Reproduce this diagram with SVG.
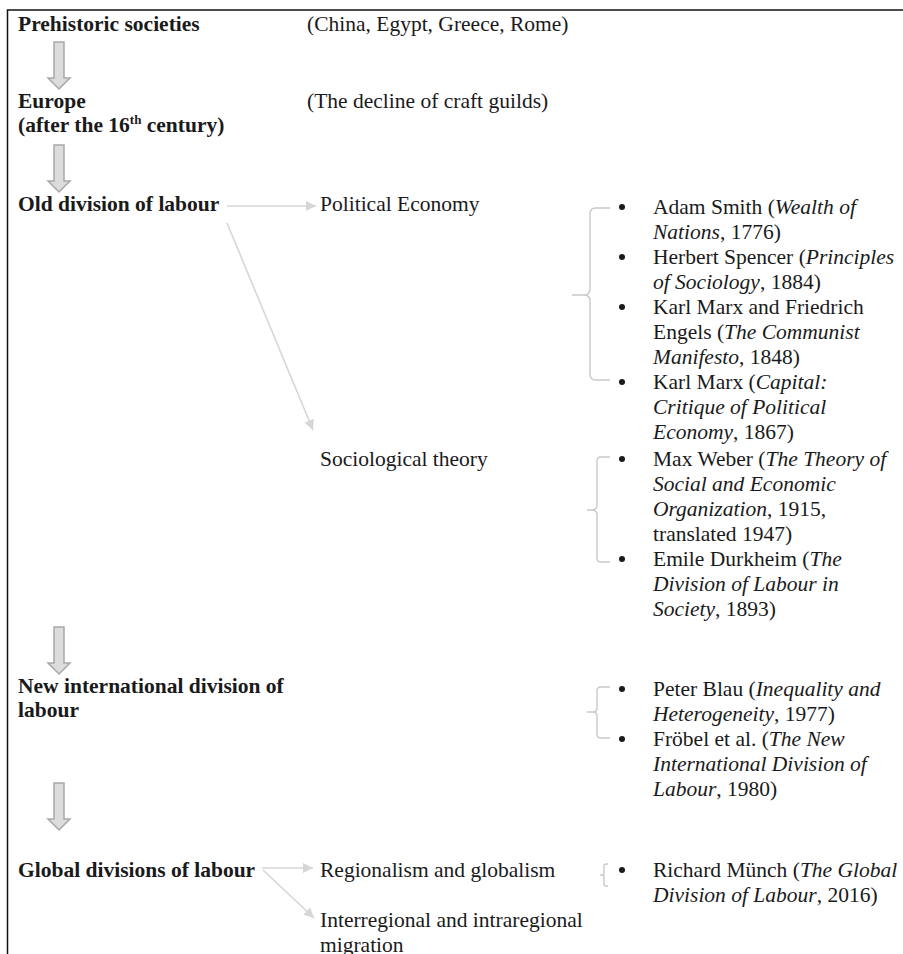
<svg xmlns="http://www.w3.org/2000/svg" width="903" height="954" viewBox="0 0 903 954">
<style>
  text { font-family: "Liberation Serif", "Times New Roman", serif; font-size: 21.5px; fill: #1a1a1a; }
  .b { font-weight: bold; }
  .i { font-style: italic; }
  .frame { stroke: #111; stroke-width: 1.5; fill: none; }
  .block { fill: #dcdcdc; stroke: #a8a8a8; stroke-width: 1.5; }
  .conn { stroke: #d6d6d6; stroke-width: 1.6; fill: none; }
  .brace { stroke: #c9c9c9; stroke-width: 1.4; fill: none; }
  .dot { fill: #1a1a1a; }
</style>
<defs>
  <marker id="ah" viewBox="0 0 10 10" refX="10" refY="5" markerWidth="8" markerHeight="8" markerUnits="userSpaceOnUse" orient="auto">
    <path d="M0,0 L10,5 L0,10 z" fill="#d6d6d6"/>
  </marker>
  <marker id="ahb" viewBox="0 0 10 10" refX="10" refY="5" markerWidth="14" markerHeight="10" markerUnits="userSpaceOnUse" orient="auto">
    <path d="M0,0 L10,5 L0,10 z" fill="#d6d6d6"/>
  </marker>
  <polygon id="blockarrow" points="54,0 64,0 64,36 70,36 59,47 48,36 54,36"/>
</defs>
<rect width="903" height="954" fill="#ffffff"/>
<path class="frame" d="M7.5,954 V10 H903"/>

<g id="prehistoric">
  <text class="b" x="18" y="31">Prehistoric societies</text>
  <text x="307" y="31">(China, Egypt, Greece, Rome)</text>
</g>
<g id="europe">
  <text class="b" x="18" y="108">Europe</text>
  <text class="b" x="18" y="132">(after the 16<tspan dy="-8" font-size="13">th</tspan><tspan dy="8"> century)</tspan></text>
  <text x="307" y="108">(The decline of craft guilds)</text>
</g>
<g id="old-division">
  <text class="b" x="18" y="211">Old division of labour</text>
</g>
<g id="political-economy">
  <text x="320" y="211">Political Economy</text>
</g>
<g id="political-economy-refs">
  <path class="brace" d="M610,208 H596 Q590,208 590,214 V289 Q590,295 584,295 H572 M584,295 Q590,295 590,301 V374 Q590,380 596,380 H610"/>
  <circle class="dot" cx="622" cy="207" r="3"/>
  <text x="653" y="214">Adam Smith (<tspan class="i">Wealth of</tspan></text>
  <text x="653" y="239"><tspan class="i">Nations</tspan>, 1776)</text>
  <circle class="dot" cx="622" cy="257" r="3"/>
  <text x="653" y="264">Herbert Spencer (<tspan class="i">Principles</tspan></text>
  <text x="653" y="289"><tspan class="i">of Sociology</tspan>, 1884)</text>
  <circle class="dot" cx="622" cy="307" r="3"/>
  <text x="653" y="314">Karl Marx and Friedrich</text>
  <text x="653" y="339">Engels (<tspan class="i">The Communist</tspan></text>
  <text x="653" y="364"><tspan class="i">Manifesto</tspan>, 1848)</text>
  <circle class="dot" cx="622" cy="382" r="3"/>
  <text x="653" y="389">Karl Marx (<tspan class="i">Capital:</tspan></text>
  <text x="653" y="414"><tspan class="i">Critique of Political</tspan></text>
  <text x="653" y="439"><tspan class="i">Economy</tspan>, 1867)</text>
</g>
<g id="sociological-theory">
  <text x="320" y="466">Sociological theory</text>
</g>
<g id="sociological-theory-refs">
  <path class="brace" d="M610,457 H601 Q597,457 597,461 V505 Q597,510 592,510 H587 M592,510 Q597,510 597,515 V558 Q597,562 601,562 H610"/>
  <circle class="dot" cx="622" cy="459" r="3"/>
  <text x="653" y="466">Max Weber (<tspan class="i">The Theory of</tspan></text>
  <text x="653" y="491"><tspan class="i">Social and Economic</tspan></text>
  <text x="653" y="516"><tspan class="i">Organization</tspan>, 1915,</text>
  <text x="653" y="541">translated 1947)</text>
  <circle class="dot" cx="622" cy="559" r="3"/>
  <text x="653" y="566">Emile Durkheim (<tspan class="i">The</tspan></text>
  <text x="653" y="591"><tspan class="i">Division of Labour in</tspan></text>
  <text x="653" y="616"><tspan class="i">Society</tspan>, 1893)</text>
</g>
<g id="new-international">
  <text class="b" x="18" y="693">New international division of</text>
  <text class="b" x="18" y="717">labour</text>
</g>
<g id="new-international-refs">
  <path class="brace" d="M610,687 H601 Q597,687 597,691 V708 Q597,712 593,712 H587 M593,712 Q597,712 597,716 V734 Q597,738 601,738 H610"/>
  <circle class="dot" cx="622" cy="689" r="3"/>
  <text x="653" y="696">Peter Blau (<tspan class="i">Inequality and</tspan></text>
  <text x="653" y="721"><tspan class="i">Heterogeneity</tspan>, 1977)</text>
  <circle class="dot" cx="622" cy="739" r="3"/>
  <text x="653" y="746">Fröbel et al. (<tspan class="i">The New</tspan></text>
  <text x="653" y="771"><tspan class="i">International Division of</tspan></text>
  <text x="653" y="796"><tspan class="i">Labour</tspan>, 1980)</text>
</g>
<g id="global-divisions">
  <text class="b" x="18" y="877">Global divisions of labour</text>
</g>
<g id="regionalism">
  <text x="320" y="877">Regionalism and globalism</text>
</g>
<g id="migration">
  <text x="320" y="927">Interregional and intraregional</text>
  <text x="320" y="952">migration</text>
</g>
<g id="global-refs">
  <path class="brace" d="M608,864 H606 Q604,864 604,866 V873 Q604,875 602,875 H600 M602,875 Q604,875 604,877 V884 Q604,886 606,886 H608"/>
  <circle class="dot" cx="622" cy="870" r="3"/>
  <text x="653" y="877">Richard Münch (<tspan class="i">The Global</tspan></text>
  <text x="653" y="902"><tspan class="i">Division of Labour</tspan>, 2016)</text>
</g>

<g id="connectors">
  <use href="#blockarrow" class="block" x="0" y="42"/>
  <use href="#blockarrow" class="block" x="0" y="145"/>
  <use href="#blockarrow" class="block" x="0" y="627"/>
  <use href="#blockarrow" class="block" x="0" y="783"/>
  <line class="conn" x1="227" y1="206" x2="316" y2="206" marker-end="url(#ahb)"/>
  <line class="conn" x1="227" y1="223" x2="313" y2="430" marker-end="url(#ahb)"/>
  <line class="conn" x1="262" y1="868" x2="313" y2="868" marker-end="url(#ahb)"/>
  <line class="conn" x1="263" y1="870" x2="314" y2="918" marker-end="url(#ahb)"/>
</g>
</svg>
